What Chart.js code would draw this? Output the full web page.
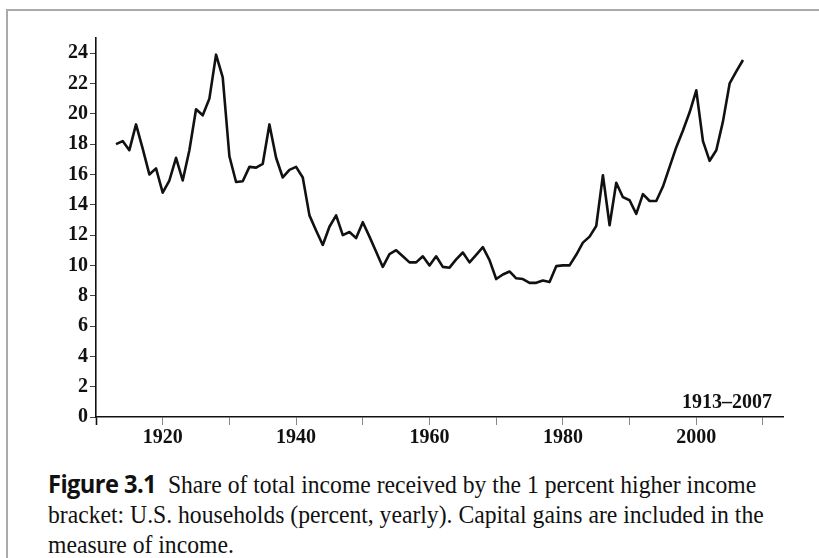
<!DOCTYPE html>
<html lang="en">
<head>
    <meta charset="UTF-8">
    <title>Share of total income received by the top 1 percent</title>
    <script src="https://cdn.jsdelivr.net/npm/chart.js"></script>
    <style>
        html, body {
            margin: 0;
            padding: 0;
            background: #fff;
        }
        body {
            width: 819px;
            height: 558px;
            position: relative;
            overflow: hidden;
        }
        .frame {
            position: absolute;
            left: 6px;
            top: 9px;
            right: -10px;
            bottom: -10px;
            border-top: 2px solid #aaa;
            border-left: 2px solid #aaa;
        }
        #chart {
            position: absolute;
            left: 0;
            top: 0;
        }
        .caption {
            position: absolute;
            left: 48px;
            top: 468px;
            font-family: "Liberation Serif", serif;
            font-size: 25px;
            line-height: 30px;
            color: #111;
            white-space: nowrap;
            transform-origin: 0 0;
        }
        .caption b {
            font-family: "Open Sans", sans-serif;
            font-weight: 700;
            letter-spacing: -0.6px;
        }
        .caption div {
            display: table;
        }
    </style>
</head>
<body>
    <div class="frame"></div>
    <canvas id="chart" width="819" height="450"></canvas>
    <div class="caption" id="caption">
        <div id="cap1"><b>Figure 3.1</b>&nbsp; Share of total income received by the 1 percent higher income</div>
        <div id="cap2">bracket: U.S. households (percent, yearly). Capital gains are included in the</div>
        <div id="cap3">measure of income.</div>
    </div>

    <script>
        // Years shown on the chart
        const years = [
            1913, 1914, 1915, 1916, 1917, 1918, 1919, 1920, 1921, 1922,
            1923, 1924, 1925, 1926, 1927, 1928, 1929, 1930, 1931, 1932,
            1933, 1934, 1935, 1936, 1937, 1938, 1939, 1940, 1941, 1942,
            1943, 1944, 1945, 1946, 1947, 1948, 1949, 1950, 1951, 1952,
            1953, 1954, 1955, 1956, 1957, 1958, 1959, 1960, 1961, 1962,
            1963, 1964, 1965, 1966, 1967, 1968, 1969, 1970, 1971, 1972,
            1973, 1974, 1975, 1976, 1977, 1978, 1979, 1980, 1981, 1982,
            1983, 1984, 1985, 1986, 1987, 1988, 1989, 1990, 1991, 1992,
            1993, 1994, 1995, 1996, 1997, 1998, 1999, 2000, 2001, 2002,
            2003, 2004, 2005, 2006, 2007
        ];

        // Top 1 percent share of total income (percent)
        const topShare = [
            18.0, 18.2, 17.6, 19.3, 17.7, 16.0, 16.4, 14.8, 15.6, 17.1,
            15.6, 17.6, 20.3, 19.9, 21.0, 23.9, 22.4, 17.2, 15.5, 15.55,
            16.5, 16.45, 16.7, 19.3, 17.1, 15.8, 16.3, 16.5, 15.8, 13.3,
            12.3, 11.35, 12.55, 13.3, 12.0, 12.2, 11.8, 12.85, 11.9, 10.9,
            9.9, 10.75, 11.0, 10.6, 10.2, 10.2, 10.6, 10.0, 10.6, 9.9,
            9.85, 10.4, 10.85, 10.2, 10.7, 11.2, 10.35, 9.1, 9.4, 9.6,
            9.15, 9.1, 8.85, 8.85, 9.0, 8.9, 9.95, 10.0, 10.0, 10.7,
            11.5, 11.9, 12.6, 15.95, 12.65, 15.45, 14.5, 14.3, 13.4, 14.7,
            14.25, 14.25, 15.2, 16.5, 17.8, 18.9, 20.1, 21.55, 18.2, 16.9,
            17.6, 19.5, 22.0, 22.8, 23.55
        ];

        // Axis settings
        const xLabelYears = [1920, 1940, 1960, 1980, 2000];
        const periodNote = "1913\u20132007";

        const tickFont = { family: '"Liberation Serif", serif', size: 20, weight: 'bold' };

        // Draws the period note in the lower right corner of the plot
        const notePlugin = {
            id: 'periodNote',
            afterDraw(chart) {
                const { ctx, chartArea } = chart;
                ctx.save();
                ctx.font = 'bold 20px "Liberation Serif", serif';
                ctx.fillStyle = '#111';
                ctx.textAlign = 'right';
                ctx.textBaseline = 'alphabetic';
                ctx.fillText(periodNote, chartArea.right - 11, chartArea.bottom - 9);
                ctx.restore();
            }
        };

        new Chart(document.getElementById('chart'), {
            type: 'line',
            data: {
                datasets: [{
                    data: years.map((y, i) => ({ x: y, y: topShare[i] })),
                    borderColor: '#111',
                    borderWidth: 2.6,
                    pointRadius: 0,
                    tension: 0,
                    borderJoinStyle: 'round',
                    fill: false
                }]
            },
            options: {
                responsive: false,
                animation: false,
                devicePixelRatio: 1,
                layout: { padding: { top: 38, right: 36, left: 0, bottom: 0 } },
                plugins: {
                    legend: { display: false },
                    tooltip: { enabled: false }
                },
                scales: {
                    x: {
                        type: 'linear',
                        min: 1910,
                        max: 2013,
                        afterFit: (s) => { s.height = 33; },
                        border: { display: true, color: '#111', width: 1.6 },
                        grid: {
                            drawOnChartArea: false,
                            drawTicks: true,
                            tickLength: 8,
                            tickWidth: (c) => (c.tick && c.tick.value === 1910 ? 1.6 : 1),
                            tickColor: (c) => (c.tick && c.tick.value === 1910 ? '#111' : '#888')
                        },
                        ticks: {
                            stepSize: 10,
                            includeBounds: false,
                            autoSkip: false,
                            maxRotation: 0,
                            padding: 1,
                            color: '#111',
                            font: tickFont,
                            callback: (v) => (xLabelYears.includes(v) ? String(v) : '')
                        }
                    },
                    y: {
                        min: 0,
                        max: 25,
                        afterFit: (s) => { s.width = 96; },
                        border: { display: true, color: '#111', width: 1.6 },
                        grid: {
                            drawOnChartArea: false,
                            drawTicks: true,
                            tickLength: 6,
                            tickColor: '#444'
                        },
                        ticks: {
                            stepSize: 2,
                            includeBounds: false,
                            padding: 2,
                            color: '#111',
                            font: tickFont,
                            callback: (v) => String(v)
                        }
                    }
                }
            },
            plugins: [notePlugin]
        });

        // Squeeze the caption to the width of the printed one
        const caption = document.getElementById('caption');
        const widest = Math.max(
            document.getElementById('cap1').offsetWidth,
            document.getElementById('cap2').offsetWidth
        );
        caption.style.transform = 'scaleX(' + (716 / widest) + ')';
    </script>
</body>
</html>
